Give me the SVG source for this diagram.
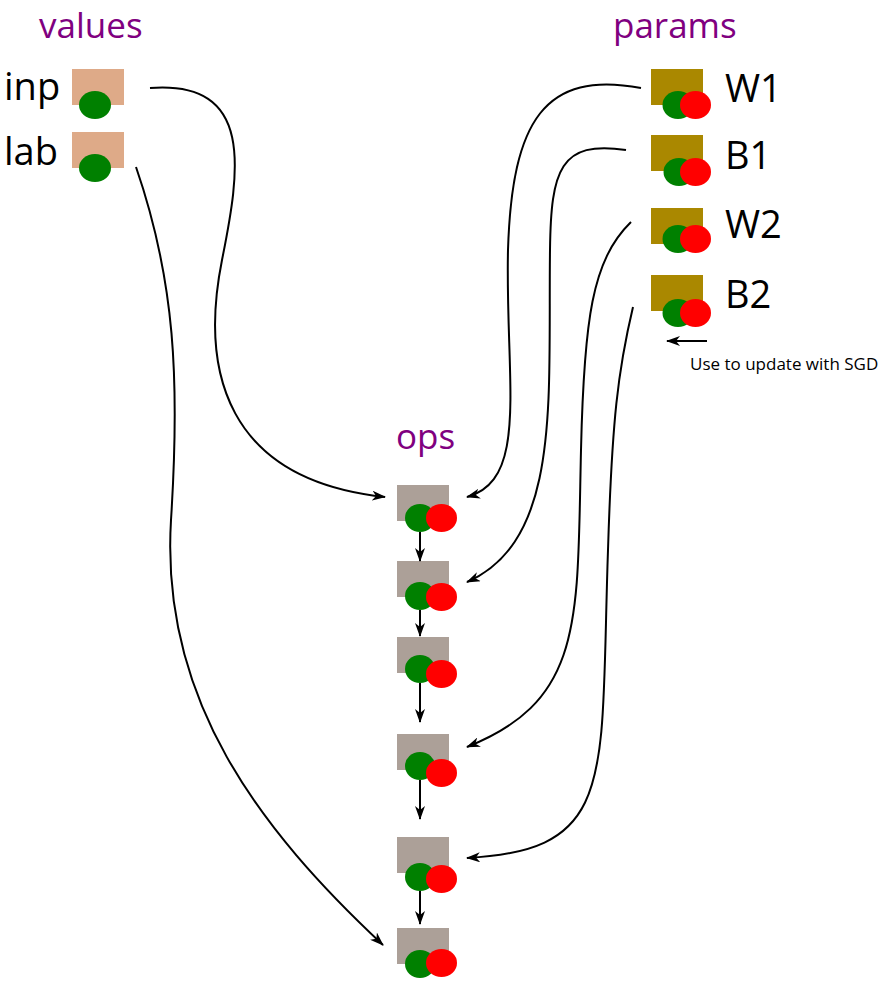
<svg xmlns="http://www.w3.org/2000/svg" width="887" height="981" viewBox="0 0 887 981">
  <style>
    .title { font-family: "Open Sans", "Noto Sans", sans-serif; font-size: 35px; fill: #800080; }
    .lbl { font-family: "Open Sans", "Noto Sans", sans-serif; font-size: 38px; fill: #000; }
    .note { font-family: "Open Sans", "Noto Sans", sans-serif; font-size: 17px; fill: #000; }
    .val { fill: #deaa88; }
    .par { fill: #aa8800; }
    .op { fill: #aca098; }
    .g { fill: #008000; }
    .r { fill: #ff0000; }
    .edge { fill: none; stroke: #000; stroke-width: 2; marker-end: url(#arr); }
  </style>
  <defs>
    <marker id="arr" viewBox="0 0 14 10" refX="13" refY="5" markerWidth="14" markerHeight="10" markerUnits="userSpaceOnUse" orient="auto">
      <path d="M0,0 L14,5 L0,10 L4,5 z" fill="#000"/>
    </marker>
  </defs>

  <rect width="887" height="981" fill="#fff"/>

  <!-- section titles -->
  <text class="title" x="39" y="38">values</text>
  <text class="title" x="613" y="38">params</text>
  <text class="title" x="396" y="449">ops</text>

  <!-- value nodes -->
  <g id="inp">
    <text class="lbl" x="4" y="100">inp</text>
    <rect class="val" x="72" y="69" width="52" height="36"/>
    <ellipse class="g" cx="95" cy="105" rx="16" ry="14"/>
  </g>
  <g id="lab">
    <text class="lbl" x="4" y="165">lab</text>
    <rect class="val" x="72" y="132" width="52" height="36"/>
    <ellipse class="g" cx="95" cy="168" rx="16" ry="14"/>
  </g>

  <!-- parameter nodes -->
  <g id="W1">
    <rect class="par" x="651" y="69" width="52" height="36"/>
    <ellipse class="g" cx="678" cy="105" rx="15.5" ry="14"/>
    <ellipse class="r" cx="695.5" cy="105" rx="15.5" ry="14"/>
    <text class="lbl" x="725" y="102">W1</text>
  </g>
  <g id="B1">
    <rect class="par" x="651" y="135" width="52" height="36"/>
    <ellipse class="g" cx="679" cy="172" rx="15.5" ry="14"/>
    <ellipse class="r" cx="695.5" cy="172" rx="15.5" ry="14"/>
    <text class="lbl" x="725" y="169">B1</text>
  </g>
  <g id="W2">
    <rect class="par" x="651" y="208" width="52" height="36"/>
    <ellipse class="g" cx="678" cy="239" rx="15.5" ry="14"/>
    <ellipse class="r" cx="695.5" cy="239" rx="15.5" ry="14"/>
    <text class="lbl" x="725" y="238">W2</text>
  </g>
  <g id="B2">
    <rect class="par" x="651" y="275" width="52" height="36"/>
    <ellipse class="g" cx="678" cy="313" rx="15.5" ry="14"/>
    <ellipse class="r" cx="695.5" cy="313" rx="15.5" ry="14"/>
    <text class="lbl" x="725" y="308">B2</text>
  </g>

  <!-- op nodes -->
  <g id="op1">
    <rect class="op" x="397" y="485" width="52" height="36"/>
    <ellipse class="g" cx="420" cy="518" rx="15" ry="14"/>
    <ellipse class="r" cx="441.5" cy="518" rx="15.5" ry="14"/>
  </g>
  <g id="op2">
    <rect class="op" x="397" y="561" width="52" height="36"/>
    <ellipse class="g" cx="420" cy="596" rx="15" ry="14"/>
    <ellipse class="r" cx="441.5" cy="597" rx="15.5" ry="14"/>
  </g>
  <g id="op3">
    <rect class="op" x="397" y="637" width="52" height="36"/>
    <ellipse class="g" cx="420" cy="669" rx="15" ry="14"/>
    <ellipse class="r" cx="441.5" cy="674" rx="15.5" ry="14"/>
  </g>
  <g id="op4">
    <rect class="op" x="397" y="734" width="52" height="36"/>
    <ellipse class="g" cx="420" cy="766" rx="15" ry="14"/>
    <ellipse class="r" cx="441.5" cy="773" rx="15.5" ry="14"/>
  </g>
  <g id="op5">
    <rect class="op" x="397" y="837" width="52" height="36"/>
    <ellipse class="g" cx="420" cy="877" rx="15" ry="14"/>
    <ellipse class="r" cx="441.5" cy="879" rx="15.5" ry="14"/>
  </g>
  <g id="op6">
    <rect class="op" x="397" y="928" width="52" height="36"/>
    <ellipse class="g" cx="420" cy="964" rx="15" ry="14"/>
    <ellipse class="r" cx="441.5" cy="963" rx="15.5" ry="14"/>
  </g>

  <!-- note -->
  <g id="note">
    <path class="edge" d="M707,341 L667,341"/>
    <text class="note" x="690" y="370">Use to update with SGD</text>
  </g>

  <!-- connectors -->
  <g id="connectors">
    <path class="edge" d="M150,88 C255,80 240,170 222,260 C200,370 225,480 385,497"/>
    <path class="edge" d="M136,167 C175,280 180,380 171,520 C160,700 260,830 383,945"/>
    <path class="edge" d="M641,88 C545,70 512,120 508,250 C505,380 530,480 467,497"/>
    <path class="edge" d="M626,150 C560,140 551,170 550,250 C548,400 562,540 467,582"/>
    <path class="edge" d="M631,222 C592,260 584,320 581,450 C577,620 585,700 467,747"/>
    <path class="edge" d="M633,307 C618,370 612,420 608,550 C600,780 618,850 467,858"/>
    <path class="edge" d="M420,532 L420,561"/>
    <path class="edge" d="M420,610 L420,636"/>
    <path class="edge" d="M420,683 L420,722"/>
    <path class="edge" d="M420,780 L420,819"/>
    <path class="edge" d="M420,891 L420,924"/>
  </g>
</svg>
